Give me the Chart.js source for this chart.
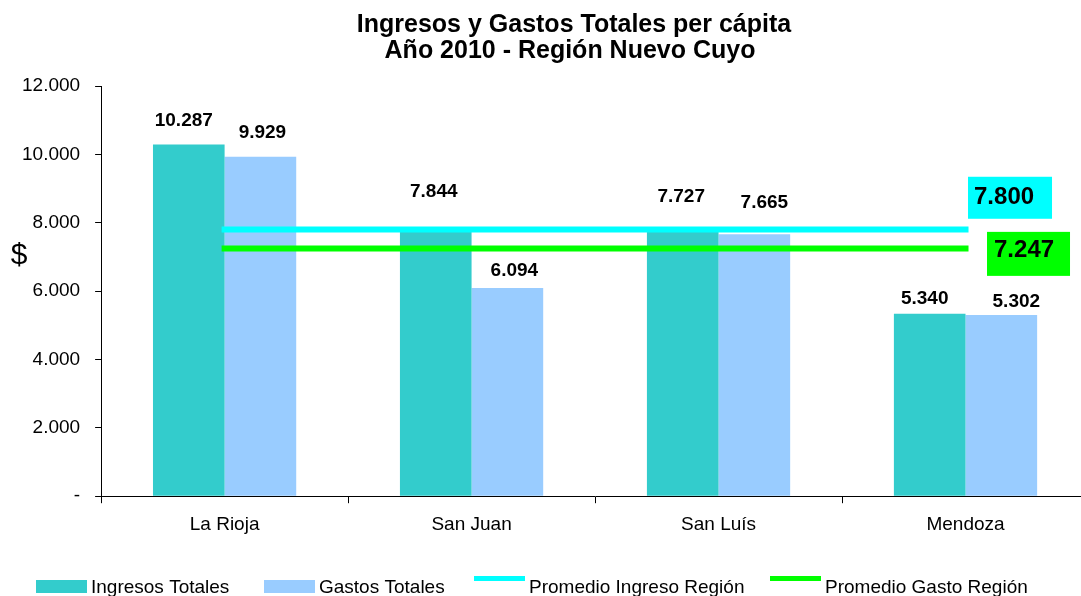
<!DOCTYPE html>
<html><head><meta charset="utf-8">
<script src="https://cdn.jsdelivr.net/npm/chart.js@4.4.0/dist/chart.umd.min.js"></script>
<style>html,body{margin:0;padding:0;background:#fff;overflow:hidden;}
#wrap{width:1100px;height:596px;position:relative;}</style>
</head><body><div id="wrap"><canvas id="c" width="1100" height="596"></canvas></div>
<script>
const categories = ['La Rioja', 'San Juan', 'San Luís', 'Mendoza'];
const ingresos = [10287, 7844, 7727, 5340];
const gastos = [9929, 6094, 7665, 5302];
const promedioIngreso = [7800, 7800, 7800, 7800];
const promedioGasto = [7247, 7247, 7247, 7247];
const yTicks = [0, 2000, 4000, 6000, 8000, 10000, 12000];
const titleLines = ['Ingresos y Gastos Totales per cápita', 'Año 2010 - Región Nuevo Cuyo'];
const seriesNames = ['Ingresos Totales', 'Gastos Totales', 'Promedio Ingreso Región', 'Promedio Gasto Región'];
const yAxisTitle = '$';

const FONT = "'Liberation Sans', Arial, sans-serif";
Chart.defaults.font.family = FONT;
Chart.defaults.color = '#000';

function fmt(v) {
  if (v === 0) return '-';
  return String(Math.round(v)).replace(/\B(?=(\d{3})+(?!\d))/g, '.');
}

const titlePlugin = {
  id: 'titlePlugin',
  afterDraw(chart) {
    const ctx = chart.ctx;
    ctx.save();
    ctx.fillStyle = '#000';
    ctx.font = 'bold 25px ' + FONT;
    ctx.textAlign = 'center';
    ctx.textBaseline = 'alphabetic';
    ctx.fillText(titleLines[0], 574, 32);
    ctx.fillText(titleLines[1], 570, 58);
    ctx.font = '30px ' + FONT;
    ctx.fillText(yAxisTitle, 19, 264);
    ctx.restore();
  }
};

const barLabels = {
  id: 'barLabels',
  afterDatasetsDraw(chart, args, opts) {
    const ctx = chart.ctx;
    ctx.save();
    ctx.fillStyle = '#000';
    ctx.font = 'bold 19px ' + FONT;
    ctx.textAlign = 'center';
    ctx.textBaseline = 'alphabetic';
    chart.data.datasets.forEach((ds, di) => {
      if (ds.type === 'line') return;
      const meta = chart.getDatasetMeta(di);
      const off = opts.offsets[di];
      meta.data.forEach((el, i) => {
        ctx.fillText(fmt(ds.data[i]), el.x + off.dx[i], el.y - off.rise[i]);
      });
    });
    ctx.restore();
  }
};

const avgLabels = {
  id: 'avgLabels',
  afterDatasetsDraw(chart, args, opts) {
    const ctx = chart.ctx;
    ctx.save();
    chart.data.datasets.forEach((ds, di) => {
      if (ds.type !== 'line') return;
      const meta = chart.getDatasetMeta(di);
      const el = meta.data[meta.data.length - 1];
      const o = opts.boxes[di];
      const x = el.x + o.dx, y = el.y + o.dy;
      ctx.fillStyle = ds.borderColor;
      ctx.fillRect(x, y, o.w, o.h);
      ctx.fillStyle = '#000';
      ctx.font = 'bold 24px ' + FONT;
      ctx.textAlign = 'left';
      ctx.textBaseline = 'alphabetic';
      ctx.fillText(fmt(ds.data[ds.data.length - 1]), x + o.tx, y + o.ty);
    });
    ctx.restore();
  }
};

const legendPlugin = {
  id: 'legendPlugin',
  afterDraw(chart, args, opts) {
    const ctx = chart.ctx;
    ctx.save();
    ctx.font = '19px ' + FONT;
    ctx.textBaseline = 'alphabetic';
    ctx.textAlign = 'left';
    chart.data.datasets.forEach((ds, i) => {
      const x = opts.xs[i];
      if (ds.type === 'line') {
        ctx.fillStyle = ds.borderColor;
        ctx.fillRect(x, opts.lineY - 2.5, opts.boxW, 5);
      } else {
        ctx.fillStyle = ds.backgroundColor;
        ctx.fillRect(x, opts.boxTop, opts.boxW, opts.boxH);
      }
      ctx.fillStyle = '#000';
      ctx.fillText(ds.label, x + opts.boxW + opts.textGap, opts.baseline);
    });
    ctx.restore();
  }
};

new Chart(document.getElementById('c'), {
  type: 'bar',
  data: {
    labels: categories,
    datasets: [
      { type: 'bar', label: seriesNames[0], data: ingresos, backgroundColor: '#33CCCC', order: 2,
        categoryPercentage: 0.58, barPercentage: 1.0 },
      { type: 'bar', label: seriesNames[1], data: gastos, backgroundColor: '#99CCFF', order: 2,
        categoryPercentage: 0.58, barPercentage: 1.0 },
      { type: 'line', label: seriesNames[2], data: promedioIngreso, borderColor: '#00FFFF', backgroundColor: '#00FFFF',
        borderWidth: 6, pointRadius: 0, borderCapStyle: 'square', order: 1 },
      { type: 'line', label: seriesNames[3], data: promedioGasto, borderColor: '#00FF00', backgroundColor: '#00FF00',
        borderWidth: 6, pointRadius: 0, borderCapStyle: 'square', order: 0 }
    ]
  },
  options: {
    responsive: false,
    animation: false,
    devicePixelRatio: 1,
    layout: { padding: { left: 7, right: 11, top: 86, bottom: 50 } },
    plugins: {
      legend: { display: false },
      title: { display: false },
      tooltip: { enabled: false },
      barLabels: {
        offsets: [
          { dx: [-5, -2, -1.5, -5], rise: [19, 31, 30, 10] },
          { dx: [2, 7, 10, 15], rise: [19, 12, 26, 8] }
        ]
      },
      avgLabels: {
        boxes: {
          2: { dx: 2.5, dy: -52.8, w: 84, h: 42, tx: 6, ty: 27 },
          3: { dx: 21.5, dy: -16.6, w: 83, h: 44, tx: 7, ty: 25 }
        }
      },
      legendPlugin: { xs: [36, 264, 474, 770], boxW: 51, boxH: 13, boxTop: 580, lineY: 578.5, textGap: 4, baseline: 593 }
    },
    scales: {
      x: {
        grid: { offset: true, drawOnChartArea: false, drawTicks: true, tickLength: 7, color: '#000' },
        border: { color: '#000', width: 1 },
        ticks: { font: { size: 19 }, color: '#000', padding: 10, maxRotation: 0 }
      },
      y: {
        min: 0, max: 12000,
        afterBuildTicks: (s) => { s.ticks = yTicks.map(v => ({ value: v })); },
        grid: { drawOnChartArea: false, drawTicks: true, tickLength: 6, color: '#000' },
        border: { color: '#000', width: 1 },
        ticks: { font: { size: 19 }, color: '#000', padding: 15, callback: (v) => fmt(v) }
      }
    }
  },
  plugins: [titlePlugin, barLabels, avgLabels, legendPlugin]
});
</script>
</body></html>
